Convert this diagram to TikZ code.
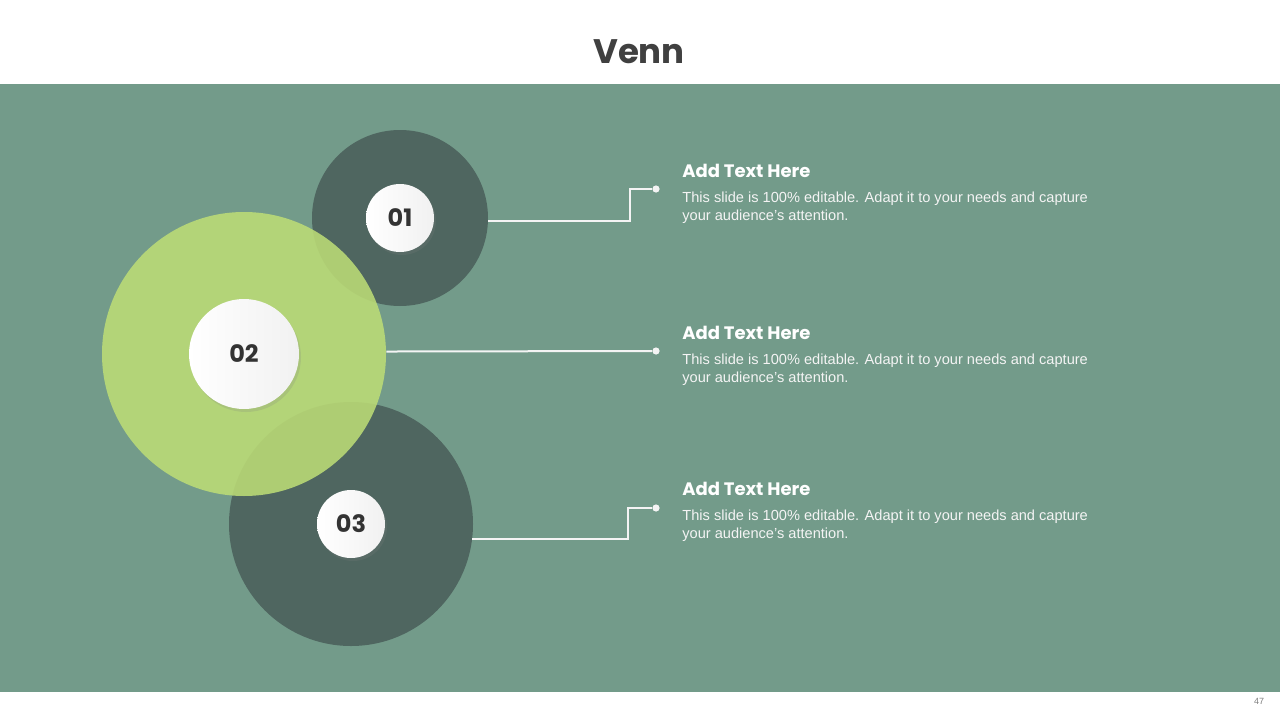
\documentclass[tikz,border=0pt]{standalone}
\usepackage{fontspec}
\setmainfont{Liberation Sans}
\newfontfamily\headfont{Poppins}
\usepackage{xcolor}
\usepackage{tikz}
\usetikzlibrary{calc,positioning,shadows}
\definecolor{bgc}{HTML}{739B8A}
\definecolor{darkc}{HTML}{4F6660}
\definecolor{limec}{HTML}{BCDC76}
\definecolor{inkc}{HTML}{333333}
\definecolor{titlec}{HTML}{404040}
\definecolor{textc}{HTML}{F4F4F4}
\tikzset{
  disc/.style={circle,inner sep=0pt,fill=darkc},
  knob/.style={circle,inner sep=0pt,left color=white,right color=gray!11,text=inkc,
    drop shadow={opacity=0.2,shadow xshift=1pt,shadow yshift=-1.5pt},
    font=\headfont\bfseries\fontsize{12}{12}\selectfont},
  link/.style={draw=textc,line width=1pt},
  dot/.style={circle,fill=textc,inner sep=0pt,minimum size=3.6pt},
  head/.style={inner sep=0pt,text=white,font=\headfont\bfseries\fontsize{9}{10}\selectfont},
  body/.style={inner sep=0pt,align=left,text=textc,font=\fontsize{7.3}{9}\selectfont}
}
\begin{document}
\begin{tikzpicture}[x=0.5pt,y=0.5pt]
\useasboundingbox (0,0) rectangle (1280,720);
\fill[white] (0,0) rectangle (1280,720);
\fill[bgc] (0,28) rectangle (1280,636);
\node[font=\headfont\bfseries\fontsize{17}{20}\selectfont,text=titlec,anchor=base] (title) at (639,657) {Venn};
\node[font=\fontsize{4.5}{5}\selectfont,text=gray] (page) at (1259,19) {47};
\node[disc,minimum size=88pt] (c1) at (400,502) {};
\node[disc,minimum size=122pt] (c3) at (351,196) {};
\node[circle,inner sep=0pt,minimum size=142pt,fill=limec,fill opacity=0.88] (c2) at (244,366) {};
\node[knob,minimum size=34pt] (w1) at (c1) {01};
\node[knob,minimum size=55pt] (w2) at (c2) {02};
\node[knob,minimum size=34pt] (w3) at (c3) {03};
\node[dot] (d1) at (656,531) {};
\node[dot] (d2) at (656,369) {};
\node[dot] (d3) at (656,212) {};
\draw[link] (c1.-2.6) -- ++(142,0) |- (d1);
\draw[link] (c2.1.2) -- (d2);
\draw[link] (c3.-7.5) -- ++(156,0) |- (d3);
\node[head,above right=6pt and 13pt of d1.center,anchor=base west] (h1) {Add Text Here};
\node[body,below=7pt of h1.south west,anchor=north west] (t1) {This slide is 100\% editable. Adapt it to your needs and capture\\your audience's attention.};
\node[head,above right=6pt and 13pt of d2.center,anchor=base west] (h2) {Add Text Here};
\node[body,below=7pt of h2.south west,anchor=north west] (t2) {This slide is 100\% editable. Adapt it to your needs and capture\\your audience's attention.};
\node[head,above right=6.5pt and 13pt of d3.center,anchor=base west] (h3) {Add Text Here};
\node[body,below=7pt of h3.south west,anchor=north west] (t3) {This slide is 100\% editable. Adapt it to your needs and capture\\your audience's attention.};
\end{tikzpicture}
\end{document}
